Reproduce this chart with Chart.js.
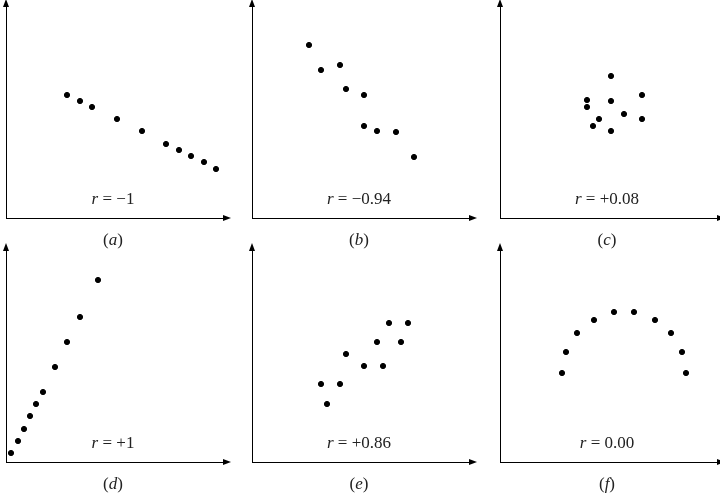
<!DOCTYPE html>
<html><head><meta charset="utf-8">
<script src="https://cdn.jsdelivr.net/npm/chart.js@4/dist/chart.umd.min.js"></script>
<style>
body{margin:0;background:#fff;width:720px;height:497px;position:relative;overflow:hidden;font-family:"Liberation Serif","DejaVu Serif",serif;}
.p{position:absolute;}
.t{position:absolute;font-size:17px;color:#222;transform:translateX(-50%);white-space:nowrap;}
i{font-style:italic;}
</style></head><body>
<script>
const panelA=[[61,123],[74,117],[86,111],[111,99],[136,87],[160,74],[173,68],[185,62],[198,56],[210,49]];
const panelB=[[57,173],[69,148],[88,153],[94,129],[112,123],[112,92],[125,87],[144,86],[162,61]];
const panelC=[[87,118],[87,111],[111,142],[111,117],[142,123],[99,99],[93,92],[124,104],[142,99],[111,87]];
const panelD=[[5,9],[12,21],[18,33],[24,46],[30,58],[37,70],[49,95],[61,120],[74,145],[92,182]];
const panelE=[[69,78],[75,58],[88,78],[94,108],[112,96],[125,120],[131,96],[137,139],[149,120],[156,139]];
const panelF=[[62,89],[66,110],[77,129],[94,142],[114,150],[134,150],[155,142],[171,129],[182,110],[186,89]];
const rLabels=["= \u22121","= \u22120.94","= +0.08","= +1","= +0.86","= 0.00"];
const letters=["a","b","c","d","e","f"];
const data=[panelA,panelB,panelC,panelD,panelE,panelF];
const origins=[[6,218],[252,218],[500,218],[6,462],[252,462],[500,462]];
const W=220,H=214,pad=6;
const arrows={id:'arrows',afterDraw(c){const a=c.chartArea,x=c.ctx;x.save();x.fillStyle='#000';
x.beginPath();x.moveTo(a.left,a.top-5);x.lineTo(a.left-3,a.top+3);x.lineTo(a.left+3,a.top+3);x.fill();
x.beginPath();x.moveTo(a.right+5,a.bottom);x.lineTo(a.right-3,a.bottom-3);x.lineTo(a.right-3,a.bottom+3);x.fill();x.restore();}};
data.forEach((d,i)=>{
 const [ox,oy]=origins[i];
 const div=document.createElement('div');div.className='p';
 div.style.left=(ox-pad)+'px';div.style.top=(oy-H-pad)+'px';div.style.width=(W+2*pad)+'px';div.style.height=(H+2*pad)+'px';
 const cv=document.createElement('canvas');div.appendChild(cv);document.body.appendChild(div);
 new Chart(cv,{type:'scatter',data:{datasets:[{data:d.map(p=>({x:p[0],y:p[1]})),backgroundColor:'#000',borderColor:'#000',pointRadius:2.6}]},
 options:{responsive:true,maintainAspectRatio:false,animation:false,layout:{padding:pad},
 plugins:{legend:{display:false},tooltip:{enabled:false}},
 scales:{x:{min:0,max:W,ticks:{display:false},grid:{display:false,drawTicks:false},border:{color:'#000',width:1}},
 y:{min:0,max:H,ticks:{display:false},grid:{display:false,drawTicks:false},border:{color:'#000',width:1}}}},plugins:[arrows]});
 const cx=ox+W/2-3;
 const t1=document.createElement('div');t1.className='t';t1.style.left=cx+'px';t1.style.top=(oy-29)+'px';
 t1.innerHTML='<i>r</i> '+rLabels[i];document.body.appendChild(t1);
 const t2=document.createElement('div');t2.className='t';t2.style.left=cx+'px';t2.style.top=(oy+12)+'px';
 t2.innerHTML='(<i>'+letters[i]+'</i>)';document.body.appendChild(t2);
});
</script>
</body></html>
